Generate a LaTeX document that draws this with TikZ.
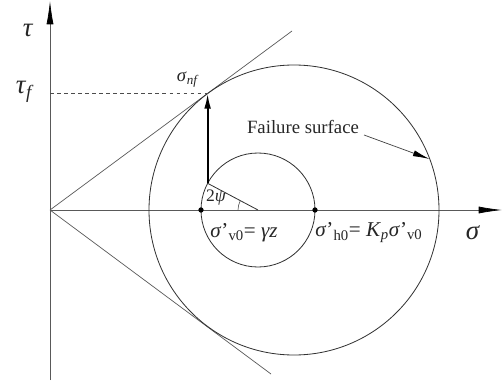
\documentclass[tikz,border=0pt]{standalone}
\usepackage{fontspec}
\setmainfont{Liberation Serif}
\usetikzlibrary{arrows.meta,calc}
\tikzset{>={Latex[length=7mm,width=2.1mm,black]}}
\tikzset{
  axisline/.style={draw=black!65, line width=0.6pt},
  mohr/.style={draw=black!80, line width=0.7pt},
  dot/.style={circle, fill=black, inner sep=1.6pt},
  lbl/.style={font=\fontsize{16}{18}\selectfont, inner sep=1pt, text=black!85},
  ptlbl/.style={font=\fontsize{18}{20}\selectfont, inner sep=1pt, text=black!85, anchor=west},
  biglbl/.style={font=\fontsize{23}{25}\selectfont, inner sep=1pt, text=black!85}
}
\newcommand{\gk}[1]{\textit{#1}}
\begin{document}
\begin{tikzpicture}[x=0.03cm, y=0.03cm]
        \useasboundingbox (-50,-175) rectangle (453,210);
        % axes
        \coordinate (O) at (0,0);
        \coordinate (tautop) at (0,209);
        \coordinate (taubot) at (0,-170);
        \coordinate (sigend) at (452,0);
        \draw[axisline] (taubot) -- (O);
        \draw[axisline, ->] (O) -- (tautop);
        \draw[axisline, ->] (O) -- (sigend);
        % envelope
        \coordinate (envup) at (242,179);
        \coordinate (envdn) at (221,-164);
        \draw[axisline] (O) -- (envup);
        \draw[axisline] (O) -- (envdn);
        % circles
        \coordinate (C0) at (208,0);
        \coordinate (Cf) at (244,0);
        \draw[mohr] (C0) circle (57);
        \draw[mohr] (Cf) circle (145);
        \node[dot] (v0) at (151,0) {};
        \node[dot] (h0) at (265,0) {};
        % stress path
        \coordinate (T) at (157.6,116.4);
        \coordinate (B) at (157.6,26.7);
        \coordinate (tauf) at (0,116.4);
        \draw[black!70, dashed, line width=0.5pt] (tauf) -- (T);
        \draw[line width=1.6pt, -{Latex[length=4.5mm,width=2mm]}] (B) -- (T);
        \draw[mohr] (C0) -- (B);
        \draw[black!70, line width=0.5pt] ($(C0)+(152:20)$) arc (152:180:20);
        \node[lbl, font=\fontsize{15}{17}\selectfont] (psi) at (166,12) {2\gk{ψ}};
        % labels
        \node[biglbl] (taulbl) at (-22,180) {\gk{τ}};
        \node[biglbl] (tauflbl) at (-25,118) {\gk{τ}\textsubscript{\gk{f}}};
        \node[biglbl] (siglbl) at (423,-23) {\gk{σ}};
        \node[lbl] (nflbl) at (138,130) {\gk{σ}\textsubscript{\gk{nf}}};
        \node[ptlbl] (v0lbl) at (159,-23) {\gk{σ}'\textsubscript{v0}= \gk{γz}};
        \node[ptlbl] (h0lbl) at (264,-23) {\gk{σ}'\textsubscript{h0}= \gk{K}\textsubscript{\gk{p}}\gk{σ}'\textsubscript{v0}};
        \node[lbl] (fail) at (253,83) {Failure surface};
        \coordinate (failpt) at (379.5,51);
        \draw[black!75, line width=0.6pt, -{Latex[length=5mm,width=1.8mm,black]}] (314,75) -- (failpt);
      \end{tikzpicture}
\end{document}
